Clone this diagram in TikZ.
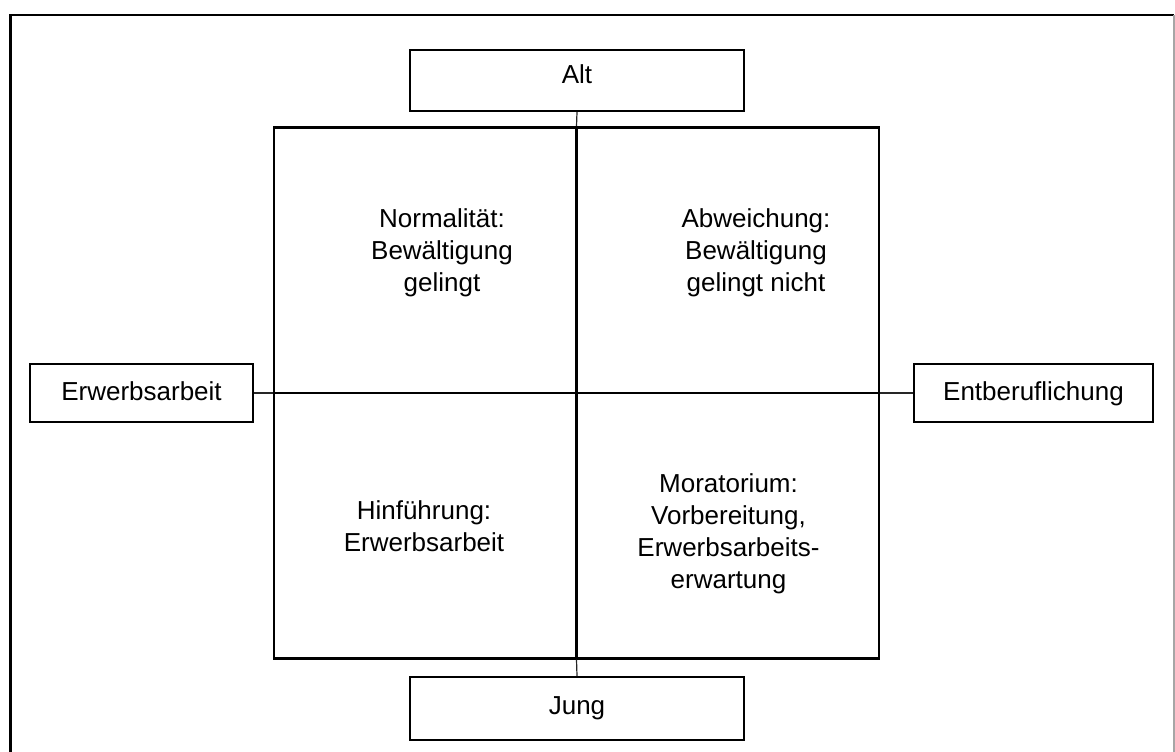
\documentclass[tikz,border=0pt]{standalone}
\usepackage{fontspec}
\setmainfont{Liberation Sans}
\begin{document}
\begin{tikzpicture}[x=1pt,y=-1pt,
  labelbox/.style={draw, line width=2pt, inner sep=0pt,
    font=\fontsize{26}{32}\selectfont, text height=20pt},
  quadtext/.style={align=center, anchor=north, inner sep=0pt,
    font=\fontsize{26}{32}\selectfont},
  axisline/.style={line width=2.4pt},
  stubline/.style={line width=1.2pt, black!85}]
\useasboundingbox (0,0) rectangle (1175,752);

% outer frame
\draw[line width=2.4pt] (10.5,752) -- (10.5,15) -- (1174,15);
\draw[line width=1.8pt, black!35] (1174,15) -- (1174,752);

% the four-field square
\node[draw, line width=2.4pt, inner sep=0pt,
  minimum width=605pt, minimum height=531pt] (field) at (576.5,393) {};

% axis end labels
\node[labelbox, minimum width=334pt, minimum height=61pt, text depth=15pt]
  (alt) at (577,80.5) {Alt};
\node[labelbox, minimum width=334pt, minimum height=63pt, text depth=9pt]
  (jung) at (577,708.5) {Jung};
\node[labelbox, minimum width=223pt, minimum height=58pt, text depth=6pt]
  (erw) at (141.5,393) {Erwerbsarbeit};
\node[labelbox, minimum width=239pt, minimum height=58pt, text depth=6pt]
  (ent) at (1033.5,393) {Entberuflichung};

% axes
\draw[stubline] (alt.south) -- (field.north);
\draw[axisline] (field.north) -- (field.south);
\draw[stubline] (field.south) -- (jung.north);
\draw[stubline] (erw.east) -- (field.west);
\draw[axisline] (field.west) -- (field.east);
\draw[stubline] (field.east) -- (ent.west);

% quadrant texts
\node[quadtext] (q1) at (442,208) {Normalität:\\Bewältigung\\gelingt};
\node[quadtext] (q2) at (756,208) {Abweichung:\\Bewältigung\\gelingt nicht};
\node[quadtext] (q3) at (424,500) {Hinführung:\\Erwerbsarbeit};
\node[quadtext] (q4) at (728.5,473) {Moratorium:\\Vorbereitung,\\Erwerbsarbeits-\\erwartung};
\end{tikzpicture}
\end{document}
